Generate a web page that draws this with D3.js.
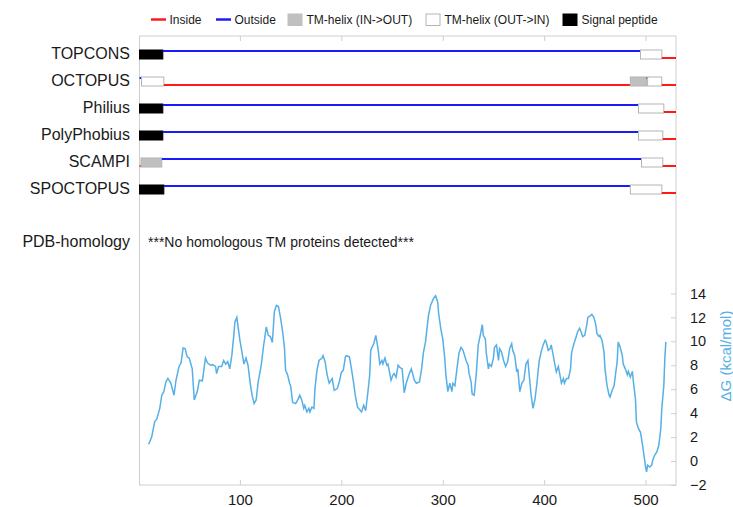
<!DOCTYPE html>
<html>
<head>
<meta charset="utf-8">
<script src="https://cdn.jsdelivr.net/npm/d3@7"></script>
<style>
	body { margin: 0; background: #fff; }
	text { font-family: "Liberation Sans", Arial, Helvetica, sans-serif; }
</style>
</head>
<body>
<div id="chart"></div>
<script>
//=========================== data ================================//

var seqLength = 530;

var methods = ["TOPCONS", "OCTOPUS", "Philius", "PolyPhobius", "SCAMPI", "SPOCTOPUS"];

// segments per method: [start, end, type]
// i = inside, o = outside, G = TM-helix (IN->OUT), W = TM-helix (OUT->IN), S = signal peptide
var topcons = [[1, 24, "S"], [24, 495, "o"], [495, 516, "W"], [516, 530, "i"]];
var octopus = [[1, 3, "o"], [3, 25, "W"], [25, 485, "i"], [485, 501, "G"], [501, 502, "o"], [502, 516, "W"], [516, 530, "i"]];
var philius = [[1, 24, "S"], [24, 493, "o"], [493, 518, "W"], [518, 530, "i"]];
var polyphobius = [[1, 24, "S"], [24, 493, "o"], [493, 517, "W"], [517, 530, "i"]];
var scampi = [[1, 2.5, "i"], [2.5, 23, "G"], [23, 496, "o"], [496, 517, "W"], [517, 530, "i"]];
var spoctopus = [[1, 25, "S"], [25, 485, "o"], [485, 516, "W"], [516, 530, "i"]];

var topologies = [topcons, octopus, philius, polyphobius, scampi, spoctopus];

var legendLabels = ["Inside", "Outside", "TM-helix (IN->OUT)", "TM-helix (OUT->IN)", "Signal peptide"];

var xTicks = [100, 200, 300, 400, 500];
var dgTicks = [-2, 0, 2, 4, 6, 8, 10, 12, 14];

// predicted deltaG along the sequence: [residue, kcal/mol]
var deltaG = [
	[10,1.4],[13,2.0],[16,3.3],[18,3.5],[21,4.4],[23,5.5],[25,5.8],[27,6.6],[29,6.9],[32,6.5],
	[35,5.5],[37,6.75],[40,7.9],[42,8.2],[44,9.45],[46,9.4],[48,8.7],[50,8.6],[53,7.7],[55,5.1],
	[58,5.8],[60,6.75],[63,6.7],[66,8.6],[68,8.2],[71,8.0],[73,8.05],[76,7.9],[77,7.3],[79,7.9],
	[82,7.9],[84,8.4],[86,8.1],[88,8.3],[90,7.7],[92,8.8],[94,10.5],[95,11.6],[97,12.0],[98,11.35],
	[100,10.1],[102,9.1],[104,8.1],[106,8.6],[108,8.0],[110,6.6],[112,5.5],[114,4.8],[116,5.1],[118,6.6],
	[121,8.0],[123,9.4],[126,11.2],[128,10.5],[130,10.4],[132,9.9],[134,12.5],[136,13.0],[138,12.9],[140,12.0],
	[142,10.9],[144,9.4],[145,7.6],[147,7.2],[149,6.5],[150,6.3],[152,4.9],[155,4.8],[157,5.1],[159,5.5],
	[161,5.1],[163,4.4],[164,4.65],[166,4.1],[168,4.4],[169,4.1],[171,4.5],[173,4.4],[174,6.05],[176,7.6],
	[178,8.4],[181,8.6],[182,8.8],[184,8.3],[186,7.2],[188,6.5],[191,6.9],[193,5.9],[196,6.05],[198,6.6],
	[200,7.4],[202,7.6],[204,8.7],[205,8.8],[208,8.7],[210,7.7],[212,6.6],[214,5.35],[216,4.5],[219,4.2],
	[220,4.1],[222,4.65],[224,4.2],[226,5.6],[228,7.2],[229,9.25],[232,9.8],[234,10.5],[236,9.5],[238,8.1],
	[240,8.4],[241,8.1],[243,8.6],[245,8.0],[246,8.1],[249,6.75],[251,7.2],[252,7.3],[254,7.0],[256,8.0],
	[258,7.8],[260,7.7],[262,5.7],[264,6.5],[267,7.3],[269,7.7],[272,6.75],[274,6.5],[277,6.6],[279,7.6],
	[281,9.1],[283,9.95],[286,12.2],[288,13.0],[291,13.6],[293,13.8],[295,13.3],[296,12.3],[298,11.1],[300,10.2],
	[302,8.6],[303,7.3],[305,5.8],[307,6.5],[309,5.8],[310,6.5],[312,6.3],[314,7.7],[316,9.0],[318,9.5],
	[320,9.25],[323,8.4],[325,8.0],[326,7.3],[328,6.6],[329,5.6],[331,5.5],[333,7.2],[335,9.7],[337,10.5],
	[339,11.4],[340,10.5],[342,10.2],[343,9.0],[345,7.7],[346,8.1],[348,7.9],[350,8.6],[351,9.5],[353,9.7],
	[355,8.4],[356,9.4],[358,9.1],[360,8.4],[362,7.9],[364,8.3],[366,9.4],[368,9.8],[369,9.25],[371,8.8],
	[373,7.45],[374,7.7],[376,5.8],[378,6.5],[380,6.75],[382,8.1],[384,8.4],[385,7.45],[387,5.6],[389,4.4],
	[391,5.2],[393,6.6],[395,8.3],[397,9.1],[399,9.7],[401,10.1],[402,9.95],[404,9.25],[406,9.4],[407,9.7],
	[409,8.8],[410,8.3],[412,7.45],[414,7.9],[415,7.45],[417,6.5],[419,6.9],[420,6.5],[422,6.9],[424,6.9],
	[426,7.7],[427,9.0],[429,9.7],[432,10.5],[433,10.8],[435,11.1],[437,10.65],[438,10.4],[440,10.5],[442,11.35],
	[443,12.0],[445,12.1],[447,12.25],[449,12.0],[451,11.35],[452,10.65],[454,10.4],[455,10.5],[457,10.1],[459,9.1],
	[460,7.7],[462,6.3],[464,5.5],[465,5.35],[467,5.9],[469,6.3],[470,7.0],[472,8.3],[473,9.95],[475,9.5],
	[477,8.8],[478,8.1],[480,7.7],[482,7.2],[483,7.5],[485,7.0],[487,7.5],[488,6.6],[490,5.2],[491,3.25],
	[493,2.7],[495,2.4],[496,1.9],[498,0.75],[500,-0.5],[501,-0.9],[502,-0.35],[504,-0.5],[506,-0.35],[507,0.05],
	[509,0.5],[511,0.75],[513,1.3],[515,2.7],[516,4.4],[518,6.3],[519,8.6],[520,9.95]
];

//=========================== graphics ================================//

var width = 733, height = 507;
var frame = {left: 139.5, right: 676, top: 36, bottom: 485};

var colors = {i: "#ff1a1a", o: "#1a1aff", G: "#c0c0c0", W: "#ffffff", S: "#000000"};
var dgColor = "#56b0e6";
var frameColor = "#cfcfcf";

var svg = d3.select("#chart").append("svg")
	.attr("width", width)
	.attr("height", height);

var x = d3.scaleLinear()
	.domain([1, seqLength])
	.range([frame.left, frame.right]);

// deltaG scale shares the frame with the tracks
var y = d3.scaleLinear()
	.domain([-2, 35.5])
	.range([frame.bottom, frame.top]);

// frame
svg.append("rect")
	.attr("x", frame.left)
	.attr("y", frame.top)
	.attr("width", frame.right - frame.left)
	.attr("height", frame.bottom - frame.top)
	.attr("fill", "none")
	.attr("stroke", frameColor);

// bottom axis with inward ticks
var xAxis = svg.append("g")
	.attr("transform", "translate(0," + frame.bottom + ")")
	.call(d3.axisBottom(x).tickValues(xTicks).tickSizeInner(-5).tickSizeOuter(0).tickPadding(9));
// top mirror ticks
var xTop = svg.append("g")
	.attr("transform", "translate(0," + frame.top + ")")
	.call(d3.axisTop(x).tickValues(xTicks).tickSizeInner(-5).tickSizeOuter(0).tickFormat(""));
// right deltaG axis
var yAxis = svg.append("g")
	.attr("transform", "translate(" + frame.right + ",0)")
	.call(d3.axisRight(y).tickValues(dgTicks).tickSizeInner(-5).tickSizeOuter(0).tickPadding(14));

[xAxis, xTop, yAxis].forEach(function(a){
	a.select(".domain").remove();
	a.selectAll(".tick line").attr("stroke", frameColor);
	a.selectAll("text").attr("fill", "#1a1a1a").attr("font-family", "Liberation Sans, Arial, sans-serif");
});
xAxis.selectAll("text").attr("font-size", 15);
yAxis.selectAll("text").attr("font-size", 14.5);

svg.append("text")
	.attr("transform", "translate(731," + 356 + ") rotate(-90)")
	.attr("text-anchor", "middle")
	.attr("font-size", 15)
	.attr("fill", dgColor)
	.text("\u0394G (kcal/mol)");

// deltaG curve
var line = d3.line()
	.x(function(d){ return x(d[0]); })
	.y(function(d){ return y(d[1]); });

svg.append("path")
	.datum(deltaG)
	.attr("d", line)
	.attr("fill", "none")
	.attr("stroke", dgColor)
	.attr("stroke-width", 1.5);

// topology tracks
var rowTop = 50, rowStep = 27, boxH = 9;

methods.forEach(function(name, k){
	var top = rowTop + k * rowStep;
	var row = svg.append("g");

	row.append("text")
		.attr("x", 130)
		.attr("y", top + 8.5)
		.attr("text-anchor", "end")
		.attr("font-size", 16)
		.attr("fill", "#1a1a1a")
		.text(name);

	topologies[k].forEach(function(seg){
		var x0 = x(seg[0]), x1 = x(seg[1]);
		if (seg[2] == "i" || seg[2] == "o") {
			var ly = seg[2] == "o" ? top + 1 : top + boxH - 1;
			row.append("line")
				.attr("x1", x0).attr("x2", x1)
				.attr("y1", ly).attr("y2", ly)
				.attr("stroke", colors[seg[2]])
				.attr("stroke-width", 2);
		}
		else {
			row.append("rect")
				.attr("x", x0)
				.attr("y", top)
				.attr("width", x1 - x0)
				.attr("height", boxH)
				.attr("fill", colors[seg[2]])
				.attr("stroke", seg[2] == "S" ? "#000" : "#b4b4b4")
				.attr("stroke-width", 1);
		}
	});
});

svg.append("text")
	.attr("x", 130)
	.attr("y", 247)
	.attr("text-anchor", "end")
	.attr("font-size", 16)
	.attr("fill", "#1a1a1a")
	.text("PDB-homology");

svg.append("text")
	.attr("x", 148)
	.attr("y", 246.5)
	.attr("font-size", 14)
	.attr("fill", "#1a1a1a")
	.text("***No homologous TM proteins detected***");

// legend
var legendX = [151, 216, 288, 426, 563];
var legendTypes = ["i", "o", "G", "W", "S"];
var legend = svg.append("g");

legendLabels.forEach(function(label, k){
	var lx = legendX[k], t = legendTypes[k];
	if (t == "i" || t == "o") {
		legend.append("line")
			.attr("x1", lx).attr("x2", lx + 15)
			.attr("y1", 19.5).attr("y2", 19.5)
			.attr("stroke", colors[t])
			.attr("stroke-width", 2.5);
	}
	else {
		legend.append("rect")
			.attr("x", lx).attr("y", 14)
			.attr("width", 14).attr("height", 11.5)
			.attr("fill", colors[t])
			.attr("stroke", t == "W" ? "#b4b4b4" : colors[t]);
	}
	legend.append("text")
		.attr("x", lx + 18.5)
		.attr("y", 23.8)
		.attr("font-size", 12)
		.attr("fill", "#1a1a1a")
		.text(label);
});
</script>
</body>
</html>
